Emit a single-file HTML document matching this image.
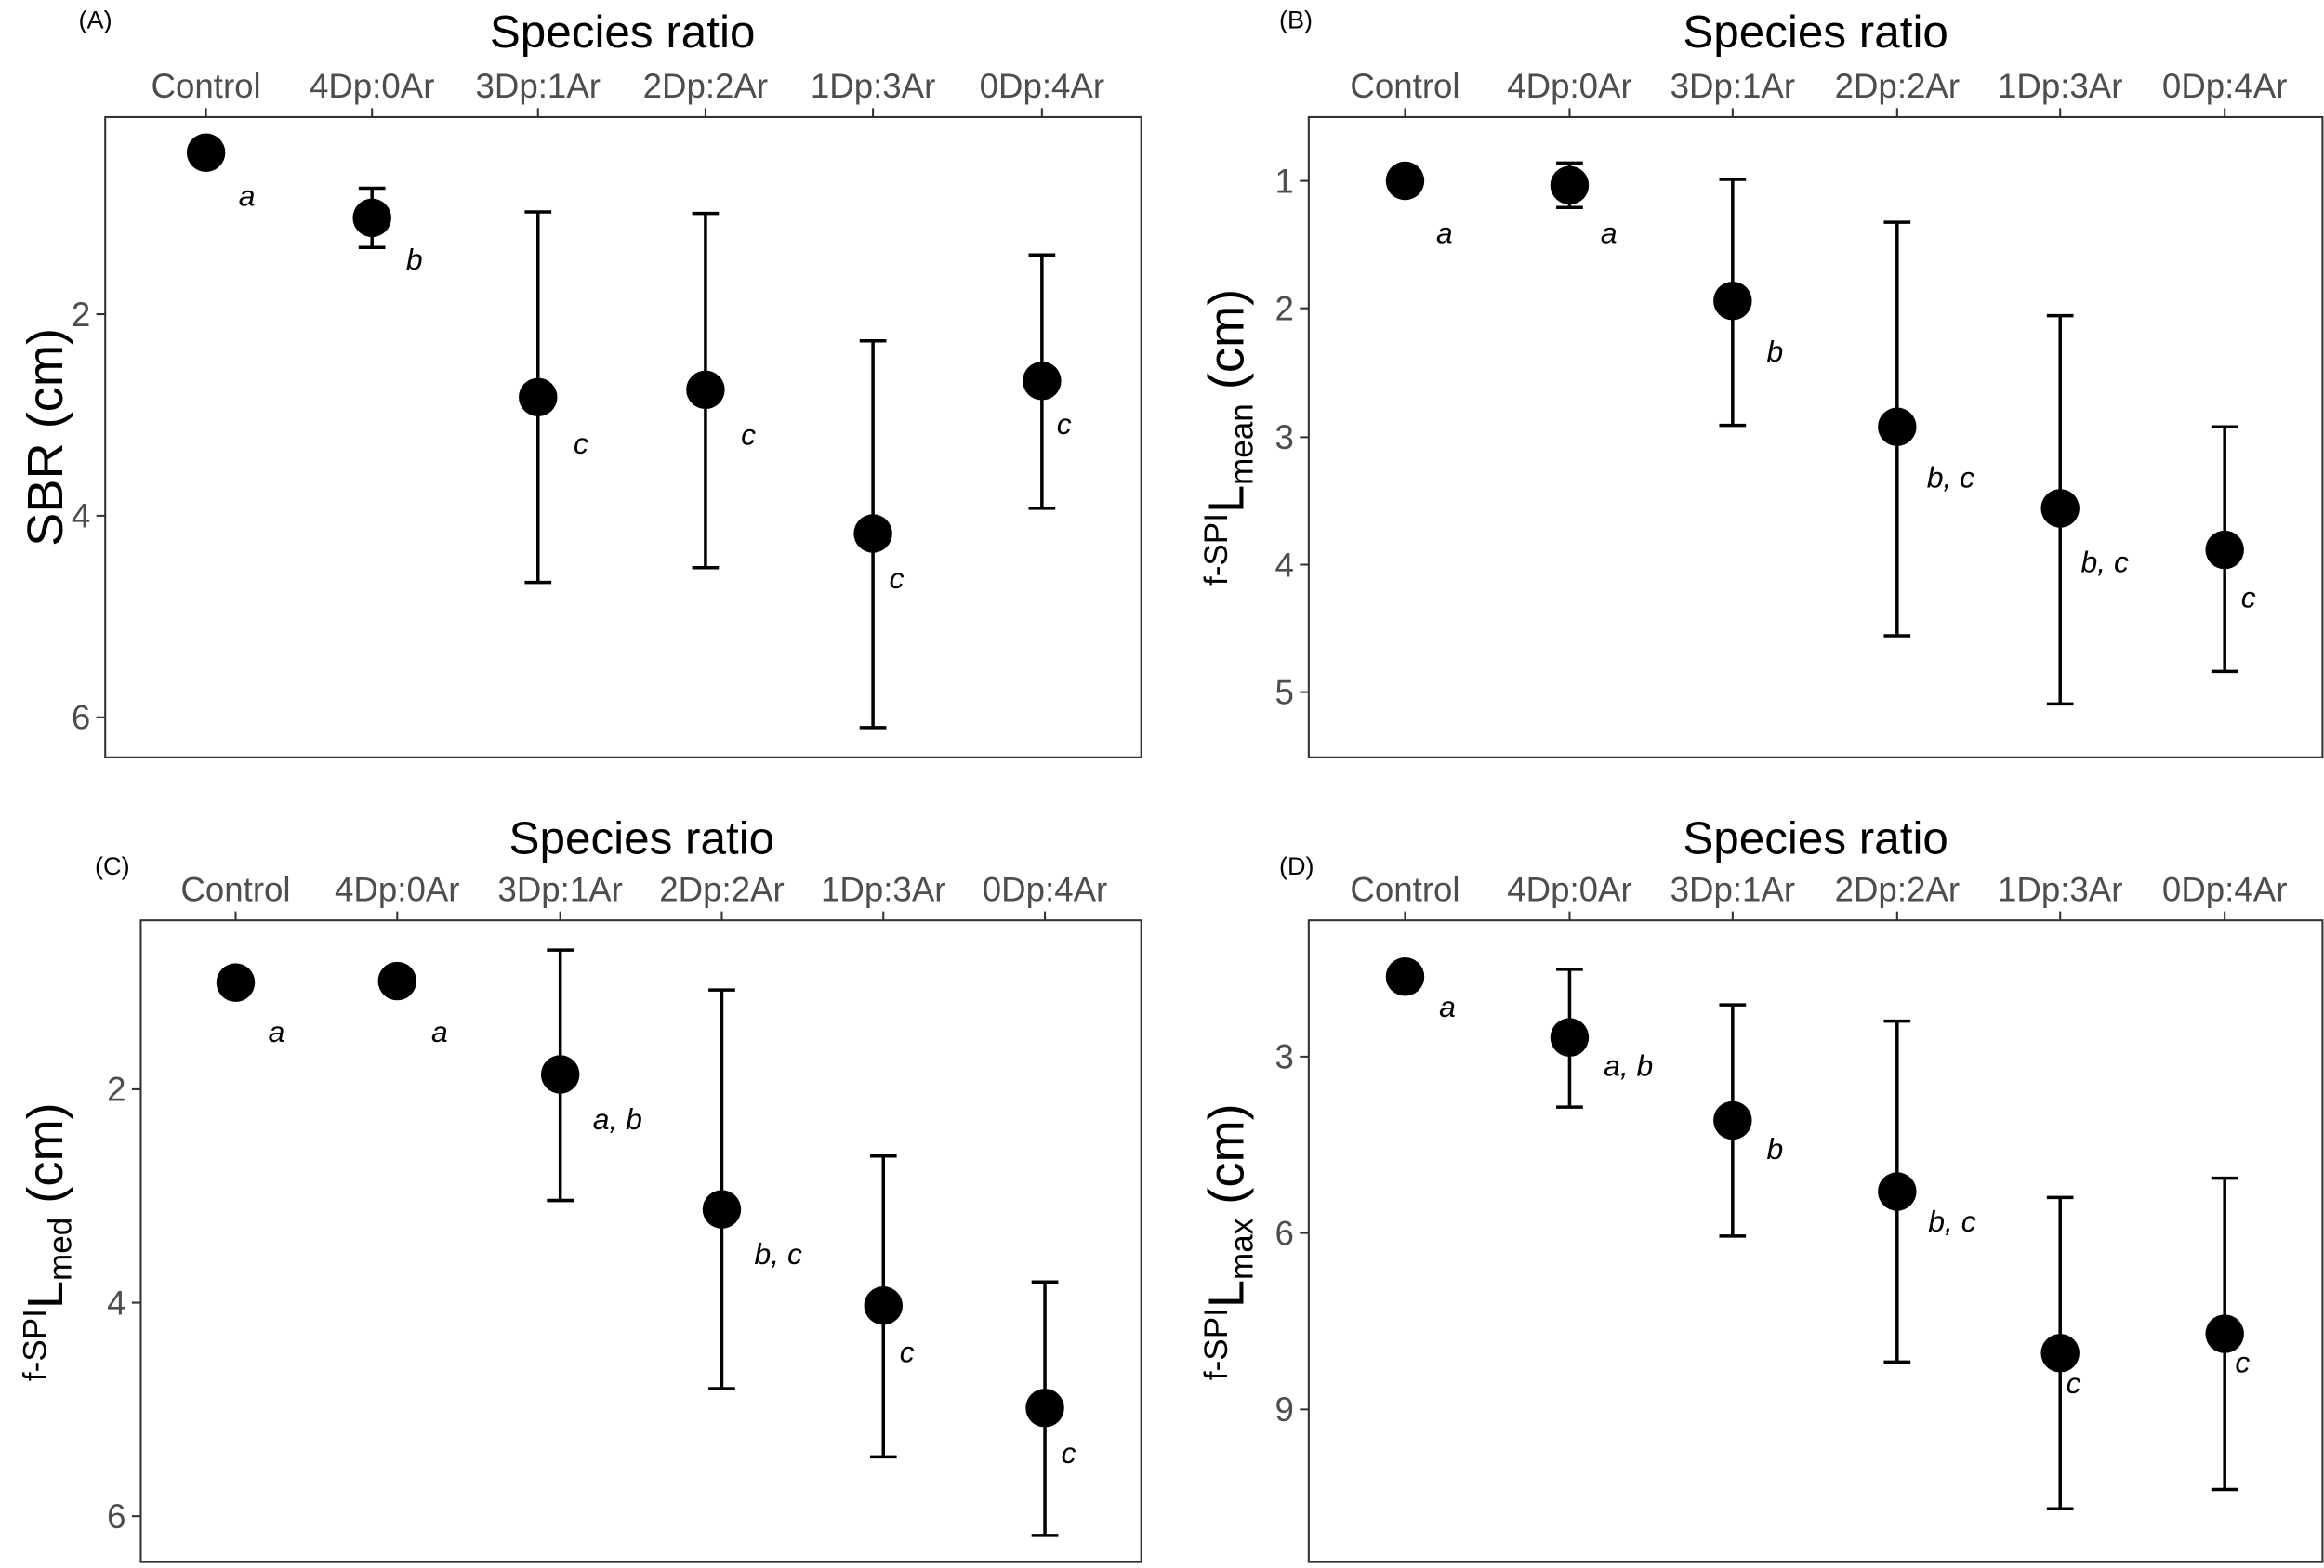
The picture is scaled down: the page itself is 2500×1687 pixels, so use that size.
<!DOCTYPE html>
<html><head><meta charset="utf-8"><style>html,body{margin:0;padding:0;background:#fff}svg{display:block}</style></head>
<body>
<svg width="2500" height="1687" viewBox="0 0 1568 1058" preserveAspectRatio="none" xmlns="http://www.w3.org/2000/svg" font-family="Liberation Sans, Arial, sans-serif">
<rect width="1568" height="1058" fill="#fff"/>
<g fill="none" stroke="#333" stroke-width="1.3">
<rect x="71" y="79" width="699" height="432"/>
<rect x="883" y="79" width="684" height="432"/>
<rect x="95" y="621" width="675" height="433"/>
<rect x="883" y="621" width="684" height="433"/>
</g>
<g stroke="#333" stroke-width="1.3">
<path d="M139 73V79M251 73V79M363 73V79M476 73V79M589 73V79M703 73V79"/>
<path d="M948 73V79M1059 73V79M1169 73V79M1280 73V79M1390 73V79M1501 73V79"/>
<path d="M159 615V621M268 615V621M378 615V621M487 615V621M596 615V621M705 615V621"/>
<path d="M948 615V621M1059 615V621M1169 615V621M1280 615V621M1390 615V621M1501 615V621"/>
<path d="M65 212H71M65 348H71M65 484H71"/>
<path d="M877 122H883M877 208H883M877 295H883M877 381H883M877 467H883"/>
<path d="M89 735H95M89 879H95M89 1023H95"/>
<path d="M877 713H883M877 832H883M877 951H883"/>
</g>
<g fill="#4d4d4d" font-size="23" text-anchor="middle">
<text x="139" y="66">Control</text><text x="251" y="66">4Dp:0Ar</text><text x="363" y="66">3Dp:1Ar</text><text x="476" y="66">2Dp:2Ar</text><text x="589" y="66">1Dp:3Ar</text><text x="703" y="66">0Dp:4Ar</text>
<text x="948" y="66">Control</text><text x="1059" y="66">4Dp:0Ar</text><text x="1169" y="66">3Dp:1Ar</text><text x="1280" y="66">2Dp:2Ar</text><text x="1390" y="66">1Dp:3Ar</text><text x="1501" y="66">0Dp:4Ar</text>
<text x="159" y="608">Control</text><text x="268" y="608">4Dp:0Ar</text><text x="378" y="608">3Dp:1Ar</text><text x="487" y="608">2Dp:2Ar</text><text x="596" y="608">1Dp:3Ar</text><text x="705" y="608">0Dp:4Ar</text>
<text x="948" y="608">Control</text><text x="1059" y="608">4Dp:0Ar</text><text x="1169" y="608">3Dp:1Ar</text><text x="1280" y="608">2Dp:2Ar</text><text x="1390" y="608">1Dp:3Ar</text><text x="1501" y="608">0Dp:4Ar</text>
</g>
<g fill="#4d4d4d" font-size="23" text-anchor="end">
<text x="61" y="220">2</text><text x="61" y="356">4</text><text x="61" y="492">6</text>
<text x="873" y="130">1</text><text x="873" y="216">2</text><text x="873" y="303">3</text><text x="873" y="389">4</text><text x="873" y="475">5</text>
<text x="85" y="743">2</text><text x="85" y="887">4</text><text x="85" y="1031">6</text>
<text x="873" y="721">3</text><text x="873" y="840">6</text><text x="873" y="959">9</text>
</g>
<g fill="#000" font-size="31" text-anchor="middle">
<text x="420" y="32">Species ratio</text>
<text x="1225" y="32">Species ratio</text>
<text x="433" y="576">Species ratio</text>
<text x="1225" y="576">Species ratio</text>
</g>
<g fill="#000" font-size="17">
<text x="53" y="19">(A)</text><text x="863" y="19">(B)</text><text x="64" y="590">(C)</text><text x="863" y="590">(D)</text>
</g>
<text transform="translate(42,295) rotate(-90)" text-anchor="middle" font-size="34" fill="#000">SBR (cm)</text>
<text transform="translate(839,295) rotate(-90)" text-anchor="middle" font-size="34" fill="#000"><tspan font-size="22" dy="-11">f-SPI</tspan><tspan dy="11">L</tspan><tspan font-size="22" dy="6">mean</tspan><tspan dy="-6"> (cm)</tspan></text>
<text transform="translate(42,838) rotate(-90)" text-anchor="middle" font-size="34" fill="#000"><tspan font-size="22" dy="-11">f-SPI</tspan><tspan dy="11">L</tspan><tspan font-size="22" dy="6">med</tspan><tspan dy="-6"> (cm)</tspan></text>
<text transform="translate(839,838) rotate(-90)" text-anchor="middle" font-size="34" fill="#000"><tspan font-size="22" dy="-11">f-SPI</tspan><tspan dy="11">L</tspan><tspan font-size="22" dy="6">max</tspan><tspan dy="-6"> (cm)</tspan></text>
<g stroke="#000" stroke-width="2.2" fill="none">
<path d="M242 127H260M251 127V167M242 167H260"/>
<path d="M354 143H372M363 143V393M354 393H372"/>
<path d="M467 144H485M476 144V383M467 383H485"/>
<path d="M580 230H598M589 230V491M580 491H598"/>
<path d="M694 172H712M703 172V343M694 343H712"/>
<path d="M939 116H957M939 128H957"/>
<path d="M1050 110H1068M1059 110V140M1050 140H1068"/>
<path d="M1160 121H1178M1169 121V287M1160 287H1178"/>
<path d="M1271 150H1289M1280 150V429M1271 429H1289"/>
<path d="M1381 213H1399M1390 213V475M1381 475H1399"/>
<path d="M1492 288H1510M1501 288V453M1492 453H1510"/>
<path d="M369 641H387M378 641V810M369 810H387"/>
<path d="M478 668H496M487 668V937M478 937H496"/>
<path d="M587 780H605M596 780V983M587 983H605"/>
<path d="M696 865H714M705 865V1036M696 1036H714"/>
<path d="M1050 654H1068M1059 654V747M1050 747H1068"/>
<path d="M1160 678H1178M1169 678V834M1160 834H1178"/>
<path d="M1271 689H1289M1280 689V919M1271 919H1289"/>
<path d="M1381 808H1399M1390 808V1018M1381 1018H1399"/>
<path d="M1492 795H1510M1501 795V1005M1492 1005H1510"/>
</g>
<g fill="#000">
<circle cx="139" cy="103" r="13"/><circle cx="251" cy="147" r="13"/><circle cx="363" cy="268" r="13"/><circle cx="476" cy="263" r="13"/><circle cx="589" cy="360" r="13"/><circle cx="703" cy="257" r="13"/>
<circle cx="948" cy="122" r="13"/><circle cx="1059" cy="125" r="13"/><circle cx="1169" cy="203" r="13"/><circle cx="1280" cy="288" r="13"/><circle cx="1390" cy="343" r="13"/><circle cx="1501" cy="371" r="13"/>
<circle cx="159" cy="663" r="13"/><circle cx="268" cy="662" r="13"/><circle cx="378" cy="725" r="13"/><circle cx="487" cy="816" r="13"/><circle cx="596" cy="881" r="13"/><circle cx="705" cy="950" r="13"/>
<circle cx="948" cy="659" r="13"/><circle cx="1059" cy="700" r="13"/><circle cx="1169" cy="756" r="13"/><circle cx="1280" cy="804" r="13"/><circle cx="1390" cy="913" r="13"/><circle cx="1501" cy="900" r="13"/>
</g>
<g fill="#000" font-size="20" font-style="italic">
<text x="161" y="139">a</text><text x="274" y="182">b</text><text x="387" y="306">c</text><text x="500" y="300">c</text><text x="600" y="397">c</text><text x="713" y="293">c</text>
<text x="969" y="164">a</text><text x="1080" y="164">a</text><text x="1192" y="244">b</text><text x="1300" y="329">b, c</text><text x="1404" y="386">b, c</text><text x="1512" y="410">c</text>
<text x="181" y="703">a</text><text x="291" y="703">a</text><text x="400" y="762">a, b</text><text x="509" y="853">b, c</text><text x="607" y="919">c</text><text x="716" y="987">c</text>
<text x="971" y="686">a</text><text x="1082" y="726">a, b</text><text x="1192" y="782">b</text><text x="1301" y="831">b, c</text><text x="1394" y="940">c</text><text x="1508" y="926">c</text>
</g>
</svg>
</body></html>
